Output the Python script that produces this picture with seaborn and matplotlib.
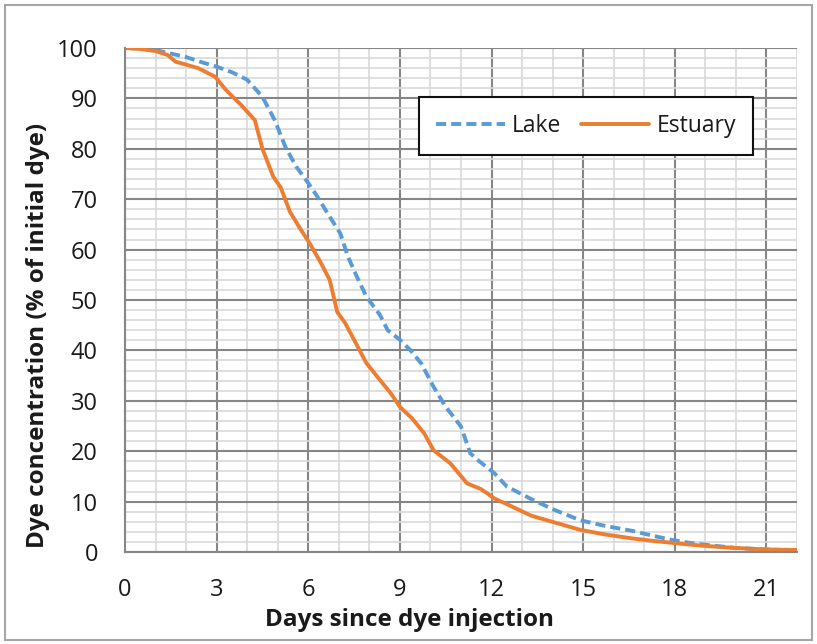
import numpy as np
import pandas as pd
import matplotlib
matplotlib.use("Agg")
import matplotlib.pyplot as plt
import seaborn as sns
from matplotlib.ticker import MultipleLocator
from matplotlib.patches import Rectangle

# values
lake_days = [0, 0.5, 1, 1.5, 2, 2.5, 3, 3.5, 4, 4.5, 4.9, 5.25, 5.6, 6, 6.3, 6.6,
             7.05, 7.3, 7.6, 7.9, 8.35, 8.6, 9.0, 9.35, 9.7, 10.1, 10.5, 11.0,
             11.3, 11.6, 12.1, 12.5, 13.3, 14, 14.9, 15.7, 16.6, 17.3, 17.9,
             18.5, 19.2, 20, 21, 22]
lake = [100, 99.9, 99.6, 98.9, 98.2, 97.2, 96.3, 95.2, 93.7, 90.3, 85.7, 80.4,
        76.5, 73.2, 70.5, 67.5, 63.2, 58.6, 54.5, 50.7, 47.0, 44.0, 42.1, 40.0,
        37.4, 32.8, 28.8, 24.9, 19.6, 18.0, 15.6, 13.0, 10.5, 8.5, 6.3, 5.2,
        4.2, 3.2, 2.4, 1.8, 1.3, 0.8, 0.5, 0.3]

estuary_days = [0, 0.5, 1, 1.4, 1.65, 2, 2.4, 2.95, 3.3, 3.8, 4.25, 4.5, 4.85,
                5.1, 5.4, 5.7, 6.05, 6.4, 6.7, 6.95, 7.2, 7.5, 7.9, 8.35, 8.7,
                9.0, 9.4, 9.8, 10.1, 10.65, 11.2, 11.65, 12.1, 12.5, 13.3, 14.1,
                14.9, 15.7, 16.6, 17.3, 18.1, 19, 20, 21, 22]
estuary = [100, 99.8, 99.4, 98.6, 97.3, 96.7, 96.0, 94.3, 91.7, 88.7, 85.7,
           80.0, 74.5, 72.3, 67.5, 64.5, 61.2, 57.5, 54.0, 47.6, 45.5, 42.1,
           37.5, 34.1, 31.5, 28.8, 26.5, 23.5, 20.2, 17.6, 13.6, 12.5, 10.6,
           9.5, 7.2, 5.8, 4.4, 3.5, 2.7, 2.2, 1.7, 1.2, 0.8, 0.5, 0.4]

sns.set_style("white")
plt.rcParams["font.family"] = ["Open Sans", "DejaVu Sans"]
txt = "#1a1a1a"

fig = plt.figure(figsize=(8.17, 6.44), dpi=100)
ax = fig.add_axes([125 / 817, 1 - 552 / 644, 672 / 817, 504 / 644])

# gridlines: major every 3 days / 10 %, minor every day / 2 %
ax.xaxis.set_major_locator(MultipleLocator(3))
ax.xaxis.set_minor_locator(MultipleLocator(1))
ax.yaxis.set_major_locator(MultipleLocator(10))
ax.yaxis.set_minor_locator(MultipleLocator(2))
ax.grid(which="minor", color="#d9d9d9", linewidth=1.2)
ax.grid(which="major", color="#868686", linewidth=1.5)
ax.set_axisbelow(True)

sns.lineplot(x=lake_days, y=lake, ax=ax, color="#5b9bd5", linewidth=2.8,
             linestyle=(0, (2.6, 1.3)), label="Lake")
sns.lineplot(x=estuary_days, y=estuary, ax=ax, color="#ed7d31", linewidth=2.8,
             label="Estuary")

ax.set_xlim(0, 22)
ax.set_ylim(0, 100)
for s in ["top", "right"]:
    ax.spines[s].set_visible(False)
for s in ["left", "bottom"]:
    ax.spines[s].set_color("#868686")
    ax.spines[s].set_linewidth(1.5)
ax.tick_params(which="major", direction="out", length=7.5, width=1.5,
               color="#868686", labelsize=17, labelcolor=txt)
ax.tick_params(axis="x", pad=11)
ax.tick_params(axis="y", pad=12)
ax.tick_params(which="minor", length=0)

ax.set_xlabel("Days since dye injection", fontsize=17.5, fontweight="bold",
              color=txt)
ax.set_ylabel("Dye concentration (% of initial dye)", fontsize=17.5,
              fontweight="bold", color=txt)
ax.xaxis.set_label_coords(0.424, -0.112)
ax.yaxis.set_label_coords(-0.112, 0.43)

leg = ax.legend(loc="upper left", bbox_to_anchor=(0.4375, 0.9028),
                borderaxespad=0, ncol=2, fontsize=16.5, frameon=True,
                fancybox=False, edgecolor="#111111", handlelength=3.0,
                borderpad=0.75, columnspacing=0.85, handletextpad=0.3)
leg.get_frame().set_linewidth(1.5)
leg.get_frame().set_alpha(1)
for t in leg.get_texts():
    t.set_color(txt)

fig.patches.append(Rectangle((5 / 817, 4 / 644), 807 / 817, 635 / 644,
                             transform=fig.transFigure, fill=False,
                             edgecolor="#a6a6a6", linewidth=1.5))

fig.savefig("out.png", dpi=100)
